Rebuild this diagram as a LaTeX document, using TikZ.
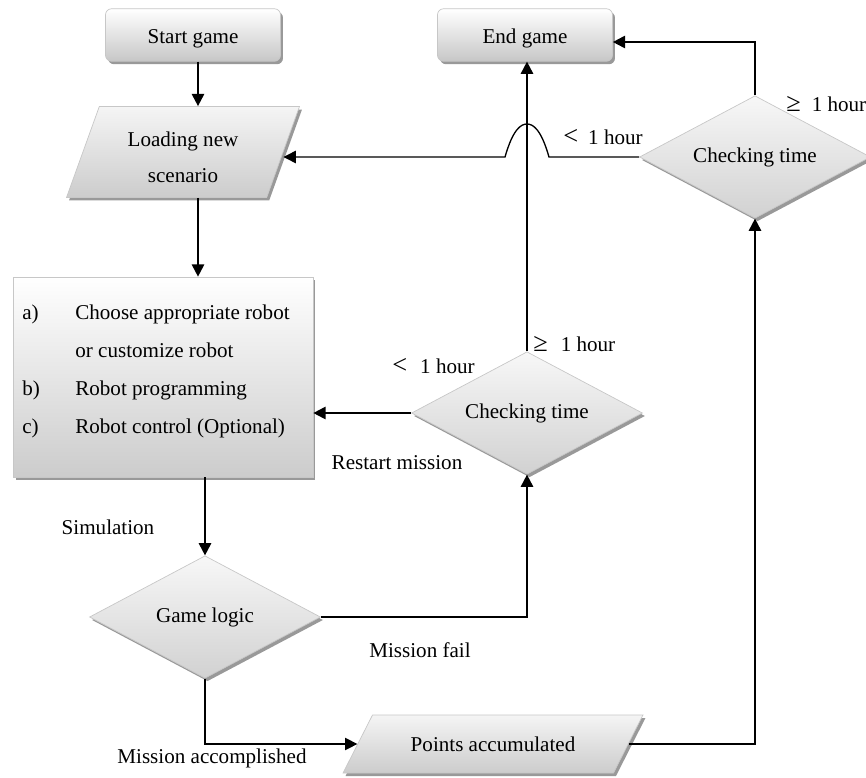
\documentclass[tikz,border=0pt]{standalone}
\usepackage{fontspec}
\setmainfont{Liberation Serif}
\usetikzlibrary{shapes.geometric, arrows.meta, shadows, calc}
\newcommand{\relsym}[1]{{\fontsize{15}{15}\selectfont #1}}

\begin{document}
\begin{tikzpicture}[x=0.02cm, y=-0.02cm, font=\fontsize{12}{14.4}\selectfont]

\tikzset{shadowed/.style = {drop shadow={shadow xshift=0.05cm, shadow yshift=-0.06cm, fill=black!40, opacity=1}}}
\tikzset{terminal/.style = {shape=rectangle, rounded corners=0.12cm, draw=black!22, top color=white, bottom color=black!22, minimum width=3.5cm, minimum height=1.05cm, text height=0.42cm, shadowed}}
\tikzset{io/.style = {trapezium, trapezium stretches body=true, draw=black!22, top color=black!4, bottom color=black!20, shadowed}}
\tikzset{decision/.style = {diamond, aspect=1.9, draw=black!22, top color=black!3, bottom color=black!18, minimum width=4.62cm, minimum height=2.45cm, inner sep=0pt, shadowed}}
\tikzset{task/.style = {rectangle, draw=black!22, top color=white, bottom color=black!20, minimum width=6cm, minimum height=4cm, inner xsep=0pt, shadowed}}
\tikzset{edge/.style = {-{Triangle[length=7pt,width=7pt]}, line width=1.1pt}}
\tikzset{thinedge/.style = {edge, line width=0.75pt}}
\tikzset{lbl/.style = {inner sep=0pt}}

\useasboundingbox (0,0) rectangle (866,778);

%blocks
\node[terminal] (start) at (193,35) {Start game};
\node[terminal] (end) at (525,35) {End game};
\node[io, trapezium left angle=66, trapezium right angle=114, minimum width=4.66cm, minimum height=1.82cm, align=center] (load) at (183,152) {\rule{0pt}{0.5cm}Loading new\\[6.5pt]scenario};
\node[task] (tasks) at (163,377) {\renewcommand\arraystretch{1.5}\begin{tabular}{@{}p{1.06cm}@{}l@{}}
a) & Choose appropriate robot\\
   & or customize robot\\
b) & Robot programming\\
c) & Robot control (Optional)\\[0.32cm]
\end{tabular}\kern0.28cm};
\node[decision] (check1) at (755,157) {Checking time};
\node[decision] (check2) at (527,413) {Checking time};
\node[decision] (logic) at (205,617) {Game logic};
\node[io, trapezium left angle=42, trapezium right angle=138, minimum width=6cm, minimum height=1.16cm] (points) at (493,744) {Points accumulated};

%labels
\node[lbl, anchor=west] (ge1) at (786,104) {\relsym{≥}\hspace{0.22cm}1 hour};
\node[lbl, anchor=west] (lt1) at (563,137) {\relsym{<}\hspace{0.2cm}1 hour};
\node[lbl, anchor=west] (ge2) at (533,344) {\relsym{≥}\hspace{0.26cm}1 hour};
\node[lbl, anchor=west] (lt2) at (392,366) {\relsym{<}\hspace{0.26cm}1 hour};
\node[lbl] (restart) at (397,463) {Restart mission};
\node[lbl] (sim) at (108,527) {Simulation};
\node[lbl] (fail) at (420,650) {Mission fail};
\node[lbl] (done) at (212,758) {Mission accomplished};

%connectors
\coordinate (col) at (198,0);
\draw[edge] (start.south -| col) -- (load.north -| col);
\draw[edge] (load.south -| col) -- (tasks.north -| col);
\draw[edge] (tasks.south -| logic.north) -- (logic.north);
\draw[edge] (check2.west) -- (check2.west -| tasks.east);
\draw[edge] (logic.east) -| (check2.south);
\draw[thinedge] (logic.south) |- (points.west);
\draw[edge] (points.east) -| (check1.south);
\draw[edge] (check1.north) |- ([yshift=-0.14cm]end.east);
\draw[edge] (check2.north) -- (check2.north |- end.south);
\coordinate (hop) at (check1.west -| check2.north);
\draw[thinedge] (check1.west) -- ($(hop)+(22,0)$)
  .. controls ($(hop)+(14,-28)$) and ($(hop)+(6,-33)$) .. ($(hop)+(0,-33)$)
  .. controls ($(hop)+(-6,-33)$) and ($(hop)+(-14,-28)$) .. ($(hop)+(-22,0)$)
  -- (check1.west -| load.east);

\end{tikzpicture}
\end{document}
